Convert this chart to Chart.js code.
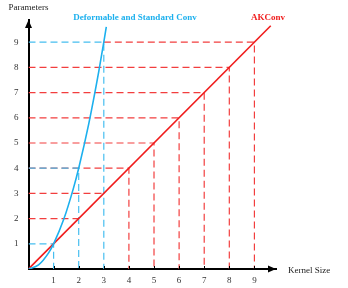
<!DOCTYPE html>
<html>
<head>
<meta charset="utf-8">
<script src="https://cdn.jsdelivr.net/npm/chart.js@4/dist/chart.umd.min.js"></script>
<style>
  html, body { margin: 0; padding: 0; background: #fff; }
  #wrap { width: 348px; height: 288px; position: relative; }
</style>
</head>
<body>
<div id="wrap"><canvas id="chart"></canvas></div>
<script>
// axis ticks
const kernelTicks = [1, 2, 3, 4, 5, 6, 7, 8, 9];
const paramTicks = [1, 2, 3, 4, 5, 6, 7, 8, 9];

// Deformable and Standard Conv (blue curve)
const convX = [0, 0.4, 0.8, 1, 1.4, 1.8, 2, 2.4, 2.8, 3, 3.1];
const convY = [0, 0.16, 0.64, 1, 1.96, 3.24, 4, 5.76, 7.84, 9, 9.61];

// AKConv (red line)
const akX = [0, 9.65];
const akY = [0, 9.65];

// dashed guide marks
const convGuideX = [1, 2, 3];
const convGuideY = [1, 4, 9];
const akGuideX = [2, 3, 4, 5, 6, 7, 8, 9];
const akGuideY = [2, 3, 4, 5, 6, 7, 8, 9];
const akGuideFrom = [0, 0, 0, 0, 0, 0, 0, 3];

const BLUE = 'rgb(28,176,238)';
const BLUE_D = 'rgb(70,190,240)';
const RED = 'rgb(240,28,28)';
const RED_D = 'rgb(242,62,62)';
const SERIF = '"Liberation Serif", "Times New Roman", serif';

const pts = (xs, ys) => xs.map((x, i) => ({ x, y: ys[i] }));

const datasets = [];
datasets.push({
  label: 'Deformable and Standard Conv', data: pts(convX, convY),
  borderColor: BLUE, borderWidth: 1.6, pointRadius: 0,
  showLine: true, cubicInterpolationMode: 'monotone', order: 0
});
datasets.push({
  label: 'AKConv', data: pts(akX, akY),
  borderColor: RED, borderWidth: 1.6, pointRadius: 0,
  showLine: true, order: 0
});
convGuideX.forEach((x, i) => {
  const y = convGuideY[i];
  datasets.push({
    data: [{ x: 0, y }, { x, y }, { x, y: 0 }],
    borderColor: BLUE_D, borderWidth: 1.2, borderDash: [7, 4],
    pointRadius: 0, showLine: true, order: 1
  });
});
akGuideX.forEach((x, i) => {
  const y = akGuideY[i];
  const data = [{ x: akGuideFrom[i], y }, { x, y }];
  // skip vertical drop where a blue guide already covers it
  if (!convGuideX.includes(x)) data.push({ x, y: 0 });
  datasets.push({
    data, borderColor: RED_D, borderWidth: 1.2, borderDash: [7, 4],
    pointRadius: 0, showLine: true, order: 2
  });
});

const decor = {
  id: 'decor',
  afterDraw(chart) {
    const { ctx, chartArea: a, scales: { x, y } } = chart;
    ctx.save();
    ctx.fillStyle = '#000';
    ctx.strokeStyle = '#000';
    // arrows
    ctx.beginPath();
    ctx.moveTo(a.left, a.top);
    ctx.lineTo(a.left - 3.5, a.top + 8);
    ctx.lineTo(a.left + 3.5, a.top + 8);
    ctx.closePath();
    ctx.fill();
    ctx.beginPath();
    ctx.moveTo(a.right, a.bottom);
    ctx.lineTo(a.right - 8, a.bottom - 3.5);
    ctx.lineTo(a.right - 8, a.bottom + 3.5);
    ctx.closePath();
    ctx.fill();
    // small tick marks on x axis
    ctx.lineWidth = 1;
    kernelTicks.forEach(v => {
      const px = Math.round(x.getPixelForValue(v)) + 0.5;
      ctx.beginPath();
      ctx.moveTo(px, a.bottom);
      ctx.lineTo(px, a.bottom - 3);
      ctx.stroke();
    });
    // texts
    ctx.textBaseline = 'middle';
    ctx.textAlign = 'center';
    ctx.font = '9px ' + SERIF;
    ctx.fillStyle = '#222';
    ctx.fillText('Parameters', a.left, 8);
    ctx.textAlign = 'left';
    ctx.fillText('Kernel Size', a.right + 12, a.bottom + 2);
    ctx.textAlign = 'center';
    ctx.font = 'bold 9px ' + SERIF;
    ctx.fillStyle = BLUE;
    ctx.fillText('Deformable and Standard Conv', 135, 18);
    ctx.fillStyle = RED;
    ctx.fillText('AKConv', 268, 18);
    ctx.restore();
  }
};

new Chart(document.getElementById('chart'), {
  type: 'scatter',
  data: { datasets },
  options: {
    responsive: true,
    maintainAspectRatio: false,
    animation: false,
    layout: { padding: { top: 20, right: 72, left: 0, bottom: 0 } },
    plugins: { legend: { display: false }, tooltip: { enabled: false } },
    scales: {
      x: {
        type: 'linear', min: 0, max: 9.86,
        afterFit: s => { s.height = 19; },
        afterBuildTicks: s => { s.ticks = kernelTicks.map(v => ({ value: v })); },
        grid: { display: false, drawTicks: false },
        border: { display: true, color: '#000', width: 2 },
        ticks: { padding: 6, color: '#333', font: { family: SERIF, size: 9 }, maxRotation: 0 }
      },
      y: {
        type: 'linear', min: 0, max: 9.88,
        afterFit: s => { s.width = 28.5; },
        afterBuildTicks: s => { s.ticks = paramTicks.map(v => ({ value: v })); },
        grid: { display: false, drawTicks: false },
        border: { display: true, color: '#000', width: 2 },
        ticks: { padding: 10, color: '#333', font: { family: SERIF, size: 9 } }
      }
    }
  },
  plugins: [decor]
});
</script>
</body>
</html>
